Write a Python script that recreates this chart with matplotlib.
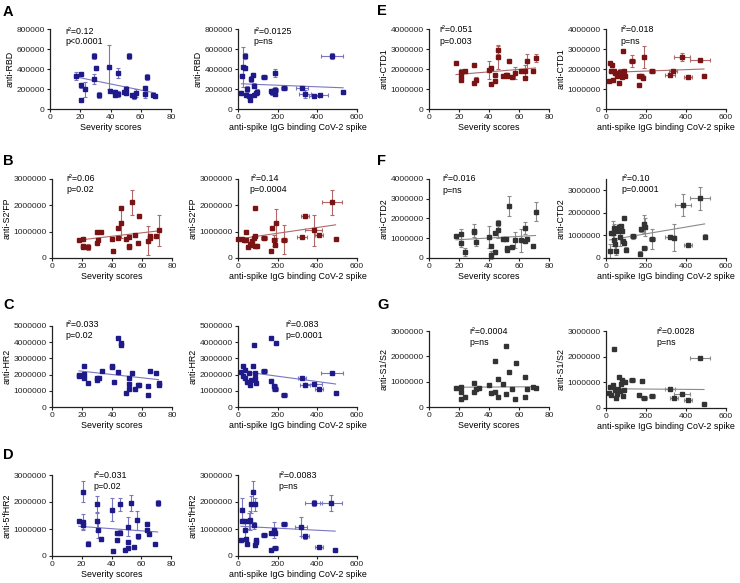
import numpy as np
import matplotlib
matplotlib.use("Agg")
import matplotlib.pyplot as plt
from matplotlib.ticker import FuncFormatter

plt.rcParams['font.family'] = ['Liberation Sans', 'DejaVu Sans']

# ---------------- DATA ----------------
# Panel A: anti-RBD
a_sev_x = [17.4, 20.3, 20.3, 20.3, 23.3, 29.3, 29.3, 30.4, 32.2, 39, 39.9, 43.2, 43.2, 45, 45, 49, 50, 50, 52, 54, 55.7, 57, 62.5, 63, 64, 68, 69.6]
a_sev_y = [333e3, 350e3, 240e3, 93e3, 200e3, 533e3, 303e3, 410e3, 143e3, 417e3, 183e3, 167e3, 143e3, 150e3, 360e3, 167e3, 200e3, 160e3, 533e3, 143e3, 127e3, 160e3, 210e3, 150e3, 320e3, 137e3, 127e3]
a_sev_yerr = [40e3, 15e3, 25e3, 10e3, 75e3, 30e3, 50e3, 20e3, 30e3, 220e3, 15e3, 25e3, 15e3, 30e3, 50e3, 10e3, 30e3, 15e3, 30e3, 10e3, 30e3, 40e3, 20e3, 40e3, 30e3, 10e3, 10e3]
a_sev_fit = [320e3, 160e3]
a_igg_x = [17, 22, 27, 35, 35, 40, 47, 55, 61, 64, 76, 81, 81, 89, 97, 131, 168, 171, 188, 185, 188, 232, 323, 340, 383, 412, 474, 530]
a_igg_y = [160e3, 333e3, 420e3, 533e3, 410e3, 143e3, 200e3, 127e3, 93e3, 303e3, 343e3, 233e3, 143e3, 160e3, 167e3, 317e3, 183e3, 167e3, 360e3, 193e3, 150e3, 210e3, 210e3, 153e3, 127e3, 137e3, 533e3, 170e3]
a_igg_xerr = [0, 0, 8, 5, 5, 0, 0, 0, 5, 0, 8, 8, 5, 5, 5, 15, 0, 5, 10, 15, 10, 15, 30, 30, 25, 40, 55, 10]
a_igg_yerr = [20e3, 15e3, 200e3, 30e3, 20e3, 10e3, 30e3, 10e3, 15e3, 30e3, 15e3, 25e3, 15e3, 15e3, 30e3, 20e3, 10e3, 25e3, 40e3, 30e3, 15e3, 15e3, 10e3, 40e3, 10e3, 10e3, 30e3, 5e3]
a_igg_fit = [252e3, 212e3]

# Panel B: anti-S2'FP
b_sev_x = [17.9, 20.8, 20.8, 20.8, 23.7, 29.7, 29.7, 30.6, 32.6, 39.8, 40.9, 43.8, 43.8, 45.8, 45.8, 49, 51, 51, 51, 53, 55, 57, 57.9, 64, 65, 65, 69, 71]
b_sev_y = [0.69e6, 0.72e6, 0.47e6, 0.42e6, 0.42e6, 1.0e6, 0.57e6, 0.69e6, 1.0e6, 0.72e6, 0.25e6, 1.13e6, 0.76e6, 1.89e6, 1.32e6, 0.73e6, 0.47e6, 0.42e6, 0.78e6, 2.12e6, 0.86e6, 0.57e6, 1.58e6, 0.66e6, 0.76e6, 0.85e6, 0.82e6, 1.05e6]
b_sev_yerr = [0, 0.05e6, 0.05e6, 0, 0.1e6, 0, 0.05e6, 0.05e6, 0, 0, 0, 0, 0, 0, 0.57e6, 0, 0.03e6, 0.03e6, 0, 0.47e6, 0, 0, 0.06e6, 0.55e6, 0.08e6, 0, 0, 0.6e6]
b_sev_fit = [0.68e6, 1.03e6]
b_igg_x = [0, 20, 30, 38, 38, 50, 58, 64, 70, 79, 84, 84, 84, 97, 129, 167, 171, 184, 187, 191, 232, 321, 338, 381, 410, 472, 492]
b_igg_y = [0.73e6, 0.73e6, 0.69e6, 1.0e6, 0.67e6, 0.42e6, 0.48e6, 0.54e6, 0.66e6, 0.76e6, 1.89e6, 0.82e6, 0.47e6, 0.47e6, 0.76e6, 0.25e6, 1.13e6, 0.67e6, 0.49e6, 1.32e6, 0.69e6, 0.78e6, 1.58e6, 1.05e6, 0.86e6, 2.12e6, 0.73e6]
b_igg_xerr = [0, 5, 5, 8, 5, 5, 5, 5, 5, 5, 0, 8, 8, 5, 15, 0, 5, 15, 10, 12, 15, 25, 20, 45, 20, 50, 10]
b_igg_yerr = [0, 0, 0.05e6, 0, 0, 0.05e6, 0.05e6, 0.05e6, 0, 0, 0, 0.05e6, 0.05e6, 0.03e6, 0.08e6, 0, 0, 0.2e6, 0.05e6, 0.55e6, 0.55e6, 0, 0.06e6, 0.6e6, 0, 0.47e6, 0]
b_igg_fit = [0.72e6, 1.26e6]

# Panel C: anti-HR2
c_sev_x = [18, 18, 21, 21, 21, 24, 30, 30, 31, 33, 40, 40, 41, 44, 44, 46, 46, 49, 51, 51, 51, 53, 55, 57, 58, 64, 64, 65, 69, 71, 71]
c_sev_y = [1.9e6, 1.96e6, 2.52e6, 2.02e6, 1.76e6, 1.49e6, 1.82e6, 1.69e6, 1.82e6, 2.23e6, 2.52e6, 2.44e6, 1.55e6, 4.24e6, 2.13e6, 3.93e6, 3.82e6, 0.89e6, 1.76e6, 1.45e6, 1.14e6, 2.07e6, 1.1e6, 1.38e6, 1.38e6, 1.28e6, 0.76e6, 2.21e6, 2.1e6, 1.49e6, 1.38e6]
c_sev_fit = [2.23e6, 1.69e6]
c_igg_x = [17, 23, 23, 33, 37, 45, 54, 59, 67, 75, 80, 84, 84, 92, 129, 167, 167, 184, 187, 191, 232, 321, 338, 381, 410, 472, 492]
c_igg_y = [2.17e6, 2.52e6, 1.9e6, 1.82e6, 2.27e6, 1.55e6, 2.07e6, 1.38e6, 1.69e6, 2.52e6, 3.82e6, 1.76e6, 2.1e6, 1.49e6, 2.21e6, 4.24e6, 1.59e6, 1.3e6, 1.14e6, 3.93e6, 0.76e6, 1.76e6, 1.38e6, 1.45e6, 1.1e6, 2.07e6, 0.89e6]
c_igg_xerr = [0, 5, 5, 5, 5, 0, 5, 5, 5, 5, 0, 5, 5, 5, 15, 0, 0, 15, 15, 12, 15, 20, 25, 45, 20, 55, 10]
c_igg_yerr = [0, 0, 0, 0, 0, 0, 0, 0, 0, 0, 0, 0, 0, 0, 0, 0, 0, 0.05e6, 0.05e6, 0.1e6, 0, 0, 0.05e6, 0.05e6, 0, 0, 0]
c_igg_fit = [2.2e6, 1.42e6]

# Panel D: anti-5'fHR2
d_sev_x = [18, 21, 21, 21, 24, 30, 30, 31, 33, 40, 41, 44, 44, 46, 46, 49, 51, 51, 51, 53, 55, 57, 58, 64, 64, 65, 69, 71]
d_sev_y = [1.29e6, 2.38e6, 1.26e6, 1.14e6, 0.46e6, 1.91e6, 1.29e6, 0.95e6, 0.63e6, 1.72e6, 0.19e6, 0.58e6, 0.86e6, 1.91e6, 0.87e6, 0.21e6, 1.08e6, 0.52e6, 0.31e6, 1.95e6, 0.33e6, 1.33e6, 0.73e6, 1.2e6, 0.98e6, 0.83e6, 0.43e6, 1.97e6]
d_sev_yerr = [0, 0.38e6, 0.3e6, 0.13e6, 0.08e6, 0.3e6, 0.35e6, 0.3e6, 0.07e6, 0.43e6, 0, 0.05e6, 0.05e6, 0.25e6, 0.1e6, 0, 0.35e6, 0.05e6, 0, 0.3e6, 0, 0.35e6, 0.1e6, 0.07e6, 0, 0.05e6, 0, 0.1e6]
d_sev_fit = [1.1e6, 0.89e6]
d_igg_x = [15, 22, 22, 33, 35, 38, 47, 54, 59, 64, 75, 80, 84, 84, 90, 92, 129, 167, 167, 184, 187, 187, 231, 319, 338, 381, 408, 468, 490]
d_igg_y = [0.58e6, 1.72e6, 1.29e6, 1.29e6, 0.95e6, 0.64e6, 0.46e6, 1.29e6, 1.33e6, 1.91e6, 2.38e6, 1.14e6, 1.91e6, 0.4e6, 0.52e6, 0.61e6, 0.79e6, 0.86e6, 0.21e6, 0.95e6, 0.86e6, 0.31e6, 1.18e6, 1.08e6, 0.73e6, 1.97e6, 0.33e6, 1.97e6, 0.21e6]
d_igg_xerr = [0, 5, 5, 5, 5, 5, 5, 5, 5, 5, 5, 5, 5, 5, 5, 5, 15, 0, 5, 10, 10, 15, 15, 30, 20, 45, 20, 55, 10]
d_igg_yerr = [0.05e6, 0.43e6, 0, 0, 0.3e6, 0.07e6, 0, 0.3e6, 0.35e6, 0.3e6, 0.38e6, 0.13e6, 0.25e6, 0.05e6, 0.05e6, 0.05e6, 0, 0, 0, 0.3e6, 0.1e6, 0, 0.05e6, 0.35e6, 0.1e6, 0.1e6, 0, 0.3e6, 0]
d_igg_fit = [1.1e6, 0.92e6]

# Panel E: anti-CTD1
e_sev_x = [18, 21, 21, 21, 24, 30, 30, 31, 40, 41, 41, 44, 44, 46, 46, 49, 51, 52, 52, 53, 55, 57, 61, 64, 64, 65, 69, 71]
e_sev_y = [2.3e6, 1.83e6, 1.63e6, 1.47e6, 1.88e6, 2.18e6, 1.3e6, 1.47e6, 1.97e6, 2.05e6, 1.25e6, 1.72e6, 1.42e6, 2.97e6, 2.58e6, 1.67e6, 1.72e6, 1.63e6, 1.72e6, 2.42e6, 1.6e6, 1.8e6, 1.92e6, 1.92e6, 1.55e6, 2.42e6, 1.92e6, 2.55e6]
e_sev_yerr = [0.05e6, 0.18e6, 0.1e6, 0.05e6, 0, 0, 0.05e6, 0.13e6, 0.45e6, 0, 0, 0.05e6, 0.1e6, 0.2e6, 0.6e6, 0.05e6, 0.05e6, 0.05e6, 0, 0, 0, 0.3e6, 0, 0.3e6, 0.05e6, 0.35e6, 0, 0.2e6]
e_sev_fit = [1.72e6, 2.05e6]
e_igg_x = [17, 22, 25, 30, 35, 42, 47, 55, 63, 63, 72, 80, 85, 88, 93, 130, 163, 167, 177, 183, 188, 230, 322, 335, 380, 408, 468, 490]
e_igg_y = [1.42e6, 2.3e6, 1.92e6, 2.18e6, 1.47e6, 1.92e6, 1.8e6, 1.63e6, 1.72e6, 1.3e6, 1.83e6, 1.58e6, 2.92e6, 1.92e6, 1.63e6, 2.42e6, 1.22e6, 1.63e6, 1.67e6, 1.55e6, 2.58e6, 1.92e6, 1.72e6, 1.88e6, 2.58e6, 1.58e6, 2.47e6, 1.67e6]
e_igg_xerr = [0, 5, 5, 5, 5, 5, 5, 5, 5, 5, 5, 5, 0, 5, 5, 15, 0, 5, 15, 10, 10, 15, 25, 20, 40, 20, 50, 10]
e_igg_yerr = [0.05e6, 0.05e6, 0.1e6, 0.05e6, 0.1e6, 0.05e6, 0.05e6, 0.05e6, 0.05e6, 0.05e6, 0.18e6, 0.05e6, 0, 0.05e6, 0.05e6, 0.3e6, 0, 0.05e6, 0.1e6, 0.05e6, 0.55e6, 0.1e6, 0, 0.05e6, 0.2e6, 0, 0, 0.05e6]
e_igg_fit = [1.83e6, 2.0e6]

# Panel F: anti-CTD2
f_sev_x = [18, 21, 21, 24, 30, 30, 31, 40, 41, 41, 44, 44, 46, 46, 49, 51, 52, 52, 53, 55, 57, 61, 64, 64, 65, 69, 71]
f_sev_y = [1.09e6, 1.21e6, 0.76e6, 0.29e6, 1.39e6, 1.31e6, 0.79e6, 1.06e6, 0.59e6, 0.17e6, 1.26e6, 0.29e6, 1.76e6, 1.43e6, 0.96e6, 0.96e6, 0.5e6, 0.42e6, 2.64e6, 0.55e6, 0.92e6, 0.89e6, 1.51e6, 0.84e6, 0.96e6, 0.59e6, 2.35e6]
f_sev_yerr = [0, 0.25e6, 0.2e6, 0.2e6, 0.35e6, 0, 0.2e6, 0.55e6, 0.05e6, 0.2e6, 0.05e6, 0.1e6, 0.15e6, 0.4e6, 0.1e6, 0.1e6, 0.05e6, 0, 0.5e6, 0, 0.4e6, 0.6e6, 0.3e6, 0, 0.05e6, 0, 0.5e6]
f_sev_fit = [0.92e6, 1.14e6]
f_igg_x = [18, 27, 33, 38, 42, 47, 52, 60, 67, 68, 73, 80, 85, 88, 92, 100, 135, 168, 175, 188, 192, 193, 230, 322, 338, 383, 410, 472, 493]
f_igg_y = [0.32e6, 1.1e6, 1.1e6, 1.32e6, 0.8e6, 0.61e6, 0.32e6, 1.2e6, 1.39e6, 0.92e6, 1.42e6, 1.2e6, 0.76e6, 1.76e6, 0.66e6, 0.37e6, 0.96e6, 0.19e6, 1.27e6, 1.51e6, 0.44e6, 1.36e6, 0.85e6, 0.95e6, 0.9e6, 2.34e6, 0.56e6, 2.64e6, 0.95e6]
f_igg_xerr = [5, 5, 5, 5, 5, 5, 5, 5, 5, 5, 5, 5, 5, 0, 5, 5, 15, 0, 5, 10, 12, 10, 15, 25, 10, 40, 20, 50, 10]
f_igg_yerr = [0.3e6, 0, 0.55e6, 0.2e6, 0.2e6, 0.2e6, 0.2e6, 0.05e6, 0.1e6, 0.4e6, 0.05e6, 0.1e6, 0.1e6, 0, 0.1e6, 0.1e6, 0.1e6, 0.1e6, 0.1e6, 0.4e6, 0.05e6, 0.4e6, 0.45e6, 0.05e6, 0.6e6, 0.5e6, 0, 0.5e6, 0.1e6]
f_igg_fit = [0.8e6, 1.51e6]

# Panel G: anti-S1/S2
g_sev_x = [18, 21, 21, 21, 24, 30, 30, 31, 33, 40, 41, 44, 44, 46, 46, 49, 51, 51, 53, 55, 57, 58, 64, 64, 65, 69, 71]
g_sev_y = [0.75e6, 0.6e6, 0.3e6, 0.8e6, 0.4e6, 0.95e6, 0.6e6, 0.7e6, 0.75e6, 0.85e6, 0.55e6, 1.8e6, 0.6e6, 1.1e6, 0.4e6, 0.9e6, 2.4e6, 0.5e6, 1.4e6, 0.7e6, 0.3e6, 1.75e6, 1.2e6, 0.4e6, 0.7e6, 0.8e6, 0.75e6]
g_sev_yerr = [0] * 27
g_sev_fit = [0.78e6, 0.8e6]
g_igg_x = [17, 22, 27, 33, 38, 45, 50, 55, 60, 64, 70, 75, 80, 84, 90, 95, 130, 167, 180, 190, 232, 320, 338, 380, 410, 472, 490]
g_igg_y = [0.6e6, 0.8e6, 0.5e6, 0.9e6, 2.3e6, 0.7e6, 0.4e6, 0.55e6, 0.75e6, 1.2e6, 0.65e6, 0.95e6, 1.1e6, 0.45e6, 0.7e6, 1.0e6, 1.1e6, 0.5e6, 1.05e6, 0.4e6, 0.45e6, 0.75e6, 0.4e6, 0.55e6, 0.3e6, 1.95e6, 0.15e6]
g_igg_xerr = [0, 5, 5, 5, 0, 5, 5, 5, 5, 5, 5, 5, 5, 5, 5, 5, 15, 10, 10, 15, 15, 25, 20, 40, 20, 50, 10]
g_igg_yerr = [0] * 27
g_igg_fit = [0.75e6, 0.72e6]

# Labels
panel_letters = ['A', 'B', 'C', 'D', 'E', 'F', 'G']
antigen_labels = ['anti-RBD', "anti-S2'FP", 'anti-HR2', "anti-5'fHR2", 'anti-CTD1', 'anti-CTD2', 'anti-S1/S2']
r2_sev = ['0.12', '0.06', '0.033', '0.031', '0.051', '0.016', '0.0004']
p_sev = ['p<0.0001', 'p=0.02', 'p=0.02', 'p=0.02', 'p=0.003', 'p=ns', 'p=ns']
r2_igg = ['0.0125', '0.14', '0.083', '0.0083', '0.018', '0.10', '0.0028']
p_igg = ['p=ns', 'p=0.0004', 'p=0.0001', 'p=ns', 'p=ns', 'p=0.0001', 'p=ns']
sev_xlabel = 'Severity scores'
igg_xlabel = 'anti-spike IgG binding CoV-2 spike'
sev_xticks = [0, 20, 40, 60, 80]
igg_xticks = [0, 200, 400, 600]
ymax_sev = [800000, 3000000, 5000000, 3000000, 4000000, 4000000, 3000000]
ymax_igg = [800000, 3000000, 5000000, 3000000, 4000000, 3500000, 3000000]
ystep = [200000, 1000000, 1000000, 1000000, 1000000, 1000000, 1000000]

# ---------------- STYLE / LAYOUT ----------------
W, H = 740, 583
blue = ('#1f1a8a', '#7a76c0')
red = ('#7a1414', '#b06868')
grey = ('#333333', '#8a8a8a')
colors = [blue, red, blue, blue, red, grey, grey]

# pixel boxes: (left, right, top, bottom)
boxes_sev = [(50, 171, 29, 109), (52, 172, 179, 258), (52, 172, 326, 407), (52, 171, 475, 556),
             (429, 549, 29, 109), (429, 549, 179, 258), (429, 549, 331, 407)]
boxes_igg = [(238, 357, 29, 109), (238, 357, 179, 258), (238, 357, 326, 407), (238, 357, 475, 556),
             (606, 726, 29, 109), (606, 726, 179, 258), (606, 726, 331, 408)]
letter_pos = [(3, 5), (3, 154), (3, 298), (3, 448), (377, 4), (377, 154), (377, 298)]
txt_sev = [(0.13, 0.97, 0.84), (0.12, 1.0, 0.87), (0.11, 1.02, 0.88), (0.35, 1.0, 0.86),
           (0.09, 1.0, 0.85), (0.11, 1.0, 0.86), (0.34, 1.0, 0.85)]
txt_igg = [(0.13, 0.97, 0.84), (0.10, 1.0, 0.87), (0.40, 1.02, 0.88), (0.34, 1.0, 0.86),
           (0.12, 1.0, 0.85), (0.13, 1.0, 0.87), (0.42, 1.0, 0.85)]

sev_data = [
    (a_sev_x, a_sev_y, None, a_sev_yerr, a_sev_fit),
    (b_sev_x, b_sev_y, None, b_sev_yerr, b_sev_fit),
    (c_sev_x, c_sev_y, None, None, c_sev_fit),
    (d_sev_x, d_sev_y, None, d_sev_yerr, d_sev_fit),
    (e_sev_x, e_sev_y, None, e_sev_yerr, e_sev_fit),
    (f_sev_x, f_sev_y, None, f_sev_yerr, f_sev_fit),
    (g_sev_x, g_sev_y, None, g_sev_yerr, g_sev_fit),
]
igg_data = [
    (a_igg_x, a_igg_y, a_igg_xerr, a_igg_yerr, a_igg_fit),
    (b_igg_x, b_igg_y, b_igg_xerr, b_igg_yerr, b_igg_fit),
    (c_igg_x, c_igg_y, c_igg_xerr, c_igg_yerr, c_igg_fit),
    (d_igg_x, d_igg_y, d_igg_xerr, d_igg_yerr, d_igg_fit),
    (e_igg_x, e_igg_y, e_igg_xerr, e_igg_yerr, e_igg_fit),
    (f_igg_x, f_igg_y, f_igg_xerr, f_igg_yerr, f_igg_fit),
    (g_igg_x, g_igg_y, g_igg_xerr, g_igg_yerr, g_igg_fit),
]

fig = plt.figure(figsize=(W / 100, H / 100), dpi=100)
TFS = 6.0   # tick labels
LFS = 6.4   # axis labels / annotations


def to_err(e):
    if e is None:
        return None
    arr = np.asarray(e, dtype=float)
    arr[arr == 0] = np.nan
    return arr


def make_axes(box):
    l, r, t, b = box
    return fig.add_axes([l / W, 1 - b / H, (r - l) / W, (b - t) / H])


def draw(ax, data, col, xmax, xticks, xlabel, ymax, step, ylabel, txt, r2, p):
    x, y, xe, ye, fit = data
    ax.errorbar(x, y, xerr=to_err(xe), yerr=to_err(ye), fmt='none', ecolor=col[1],
                elinewidth=0.8, capsize=1.6, capthick=0.8, clip_on=False, zorder=2)
    ax.plot(x, y, 's', color=col[0], ms=3.0, mec=col[0], clip_on=False, zorder=3)
    ax.plot([min(x), max(x)], fit, '-', color=col[1], lw=0.8, zorder=2)
    ax.set_xlim(0, xmax)
    ax.set_ylim(0, ymax)
    ax.set_xticks(xticks)
    ax.set_yticks(np.arange(0, ymax + 1, step))
    ax.yaxis.set_major_formatter(FuncFormatter(lambda v, pos: '%d' % v))
    for s in ('top', 'right'):
        ax.spines[s].set_visible(False)
    for s in ('left', 'bottom'):
        ax.spines[s].set_linewidth(0.9)
        ax.spines[s].set_color('#222222')
    ax.tick_params(labelsize=TFS, length=2.5, width=0.8, pad=1.2, colors='#222222')
    ax.set_xlabel(xlabel, fontsize=LFS, labelpad=1)
    ax.set_ylabel(ylabel, fontsize=LFS, labelpad=1.5)
    tx, ty1, ty2 = txt
    ax.text(tx, ty1, 'r\u00b2=' + r2, transform=ax.transAxes, fontsize=LFS, va='center', ha='left')
    ax.text(tx, ty2, p, transform=ax.transAxes, fontsize=LFS, va='center', ha='left')


for i in range(7):
    ax1 = make_axes(boxes_sev[i])
    draw(ax1, sev_data[i], colors[i], 80, sev_xticks, sev_xlabel, ymax_sev[i], ystep[i],
         antigen_labels[i], txt_sev[i], r2_sev[i], p_sev[i])
    ax2 = make_axes(boxes_igg[i])
    ymx = ymax_igg[i]
    draw(ax2, igg_data[i], colors[i], 600, igg_xticks, igg_xlabel, ymx, ystep[i],
         antigen_labels[i], txt_igg[i], r2_igg[i], p_igg[i])
    if ymx % ystep[i] != 0:
        ax2.set_yticks(np.arange(0, ymx, ystep[i]))
    lx, ly = letter_pos[i]
    fig.text(lx / W, 1 - ly / H, panel_letters[i], fontsize=10.5, fontweight='bold', va='top', ha='left')

fig.savefig('out.png', dpi=100)
